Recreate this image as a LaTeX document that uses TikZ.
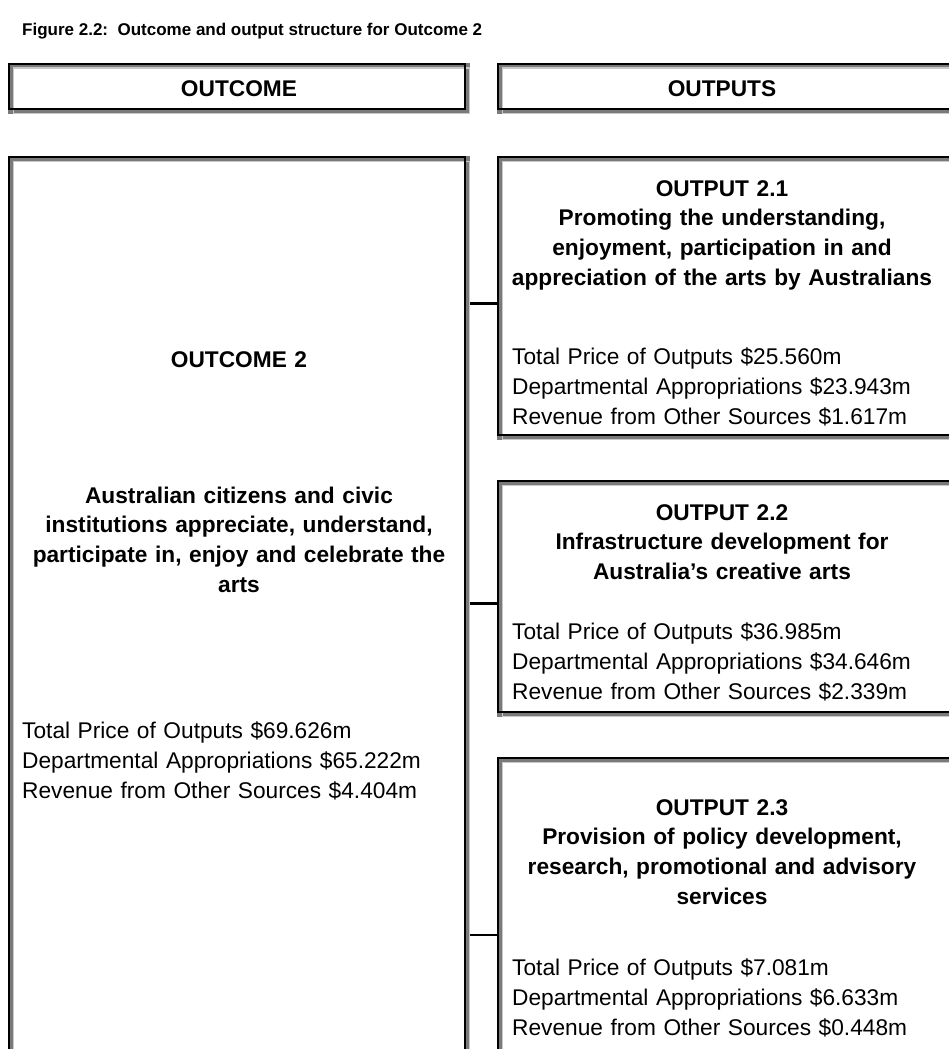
\documentclass[tikz,border=0pt]{standalone}
\usepackage{fontspec}
\setmainfont{Liberation Sans}
\definecolor{bandgrey}{HTML}{7A7A7A}
\definecolor{lightgrey}{HTML}{C8C8C8}
\newcommand\tdframe[1]{%
  \draw[band] ([shift={(3,3)}]#1.north west) rectangle ([shift={(-3,-3)}]#1.south east);
  \draw[lightedge] ([shift={(5.25,5.25)}]#1.north west) rectangle ([shift={(-0.75,-0.75)}]#1.south east);
  \draw[darkedge] ([shift={(1,1)}]#1.north west) rectangle ([shift={(-5,-5)}]#1.south east);}
\begin{document}
\begin{tikzpicture}[x=1pt,y=-1pt,
  band/.style={draw=bandgrey,line width=6pt},
  darkedge/.style={draw=black,line width=2pt},
  lightedge/.style={draw=lightgrey,line width=1.5pt},
  area/.style={inner sep=0pt,outer sep=0pt,anchor=north west},
  ttl/.style={font=\fontsize{22.7}{29.7}\selectfont\bfseries,align=center,text width=450pt,inner sep=0pt,anchor=base},
  body/.style={font=\fontsize{22.7}{30}\selectfont,align=left,text width=440pt,inner sep=0pt,anchor=base west},
  conn/.style={draw=black,line width=3pt},
  connthin/.style={draw=black,line width=1.3pt}]
\useasboundingbox[fill=white] (0,0) rectangle (949,1049);

% box areas
\node[area,minimum width=462pt,minimum height=51pt] (hout) at (8,63) {};
\node[area,minimum width=470pt,minimum height=51pt] (hputs) at (497,63) {};
\node[area,minimum width=462pt,minimum height=910pt] (outc) at (8,156) {};
\node[area,minimum width=470pt,minimum height=284pt] (o21) at (497,156) {};
\node[area,minimum width=470pt,minimum height=237pt] (o22) at (497,480) {};
\node[area,minimum width=470pt,minimum height=310pt] (o23) at (497,757) {};

\tdframe{hout}
\tdframe{hputs}
\tdframe{outc}
\tdframe{o21}
\tdframe{o22}
\tdframe{o23}

% connectors
\coordinate (j1) at (480,303);
\coordinate (j2) at (480,603);
\coordinate (j3) at (480,935);
\draw[conn] (j1 -| outc.east) -- (j1 -| o21.west);
\draw[conn] (j2 -| outc.east) -- (j2 -| o22.west);
\draw[connthin] (j3 -| outc.east) -- (j3 -| o23.west);

% title
\node[anchor=base west,inner sep=0pt,font=\fontsize{17}{20}\selectfont\bfseries] (fig) at (22,36) {Figure 2.2:\ \ Outcome and output structure for Outcome 2};

% headers
\node[ttl] (houtt) at (239,96) {OUTCOME};
\node[ttl] (hputst) at (722,96) {OUTPUTS};

% outcome
\node[ttl] (t2) at (239,367) {OUTCOME 2};
\node[ttl] (d2) at (239,503) {Australian citizens and civic\\institutions appreciate, understand,\\participate in, enjoy and celebrate the\\arts};
\node[body] (b2) at (22,738) {Total Price of Outputs \$69.626m\\Departmental Appropriations \$65.222m\\Revenue from Other Sources \$4.404m};

% output 2.1
\node[ttl] (t21) at (722,196) {OUTPUT 2.1\\Promoting the understanding,\\enjoyment, participation in and\\appreciation of the arts by Australians};
\node[body] (b21) at (512,364) {Total Price of Outputs \$25.560m\\Departmental Appropriations \$23.943m\\Revenue from Other Sources \$1.617m};

% output 2.2
\node[ttl] (t22) at (722,520) {OUTPUT 2.2\\Infrastructure development for\\Australia’s creative arts};
\node[body] (b22) at (512,639) {Total Price of Outputs \$36.985m\\Departmental Appropriations \$34.646m\\Revenue from Other Sources \$2.339m};

% output 2.3
\node[ttl] (t23) at (722,815) {OUTPUT 2.3\\Provision of policy development,\\research, promotional and advisory\\services};
\node[body] (b23) at (512,975) {Total Price of Outputs \$7.081m\\Departmental Appropriations \$6.633m\\Revenue from Other Sources \$0.448m};
\end{tikzpicture}
\end{document}
